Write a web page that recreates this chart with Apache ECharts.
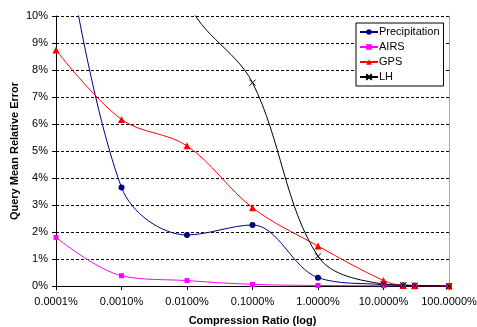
<!DOCTYPE html>
<html>
<head>
<meta charset="utf-8">
<script src="https://cdn.jsdelivr.net/npm/echarts@6/dist/echarts.min.js"></script>
<style>
  html, body { margin: 0; padding: 0; background: #fff; }
  #chart { width: 477px; height: 327px; }
</style>
</head>
<body>
<div id="chart"></div>
<script>
// compression ratios (%) on a log axis
const ratios = [0.0001, 0.001, 0.01, 0.1, 1, 10, 20, 30, 100];

// query mean relative error (%), values above 10% are clipped by the axis
const precipitation = [15, 3.65, 1.89, 2.26, 0.31, 0.05, 0.03, 0.02, 0];
const airs = [1.8, 0.38, 0.2, 0.06, 0.02, 0.01, 0.01, 0.01, 0];
const gps = [8.74, 6.17, 5.19, 2.9, 1.48, 0.2, 0.02, 0.01, 0];
const lh = [null, 35, 10.8, 7.53, 1.1, 0.07, 0.03, 0.02, 0];

const seriesNames = ['Precipitation', 'AIRS', 'GPS', 'LH'];

const font = '"Liberation Sans", Arial, sans-serif';

function pairs(values) {
    return ratios.map((r, i) => [r, values[i]]).filter(p => p[1] !== null);
}

function makeSeries(name, values, color, symbol, size, extra) {
    return Object.assign({
        name: name,
        type: 'line',
        data: pairs(values),
        smooth: 0.35,
        symbol: symbol,
        symbolSize: size,
        showAllSymbol: true,
        clip: true,
        lineStyle: { color: color, width: 1 },
        itemStyle: { color: color }
    }, extra || {});
}

const chart = echarts.init(document.getElementById('chart'));

chart.setOption({
    animation: false,
    backgroundColor: '#fff',
    textStyle: { fontFamily: font },
    grid: { left: 56, right: 28, top: 16, bottom: 41, containLabel: false, outerBoundsMode: 'none' },
    legend: {
        orient: 'vertical',
        left: 356,
        top: 23,
        width: 87,
        data: seriesNames,
        backgroundColor: '#fff',
        borderColor: '#000',
        borderWidth: 1,
        padding: [3, 4, 3, 3],
        itemGap: 3,
        itemWidth: 18,
        itemHeight: 7,
        textStyle: { fontSize: 11, lineHeight: 12, color: '#000', fontFamily: font, padding: [0, 0, 0, -4] }
    },
    xAxis: {
        type: 'log',
        logBase: 10,
        min: 0.0001,
        max: 100,
        name: 'Compression Ratio (log)',
        nameLocation: 'middle',
        nameGap: 29,
        nameMoveOverlap: false,
        nameTextStyle: { fontSize: 11, fontWeight: 'bold', color: '#000', fontFamily: font },
        axisLine: { lineStyle: { color: '#000', width: 1 } },
        axisTick: { show: true, length: 4, lineStyle: { color: '#000' } },
        minorTick: { show: false },
        splitLine: { show: false },
        axisLabel: {
            fontSize: 11,
            color: '#000',
            margin: 10,
            fontFamily: font,
            formatter: v => Number(v).toFixed(4) + '%'
        }
    },
    yAxis: [{
        type: 'value',
        min: 0,
        max: 10,
        interval: 1,
        name: 'Query Mean Relative Error',
        nameLocation: 'middle',
        nameGap: 36,
        nameMoveOverlap: false,
        nameTextStyle: { fontSize: 11, fontWeight: 'bold', color: '#000', fontFamily: font },
        axisLine: { show: true, lineStyle: { color: '#000', width: 1 } },
        axisTick: { show: true, length: 4, lineStyle: { color: '#000' } },
        splitLine: { show: true, lineStyle: { color: '#000', type: [3, 2], width: 1 } },
        axisLabel: {
            fontSize: 11,
            color: '#000',
            margin: 8,
            fontFamily: font,
            formatter: '{value}%'
        }
    }, {
        // grey plot-area border on the right
        type: 'value',
        position: 'right',
        min: 0,
        max: 10,
        axisLine: { show: true, lineStyle: { color: '#aaa', width: 1 } },
        axisTick: { show: false },
        axisLabel: { show: false },
        splitLine: { show: false }
    }],
    series: [
        makeSeries('Precipitation', precipitation, '#000080', 'circle', 6),
        makeSeries('AIRS', airs, '#ff00ff', 'rect', 5),
        makeSeries('GPS', gps, '#ff0000', 'triangle', 7),
        makeSeries('LH', lh, '#000000', 'path://M0,0L10,10M10,0L0,10', 6, {
            itemStyle: { color: 'none', borderColor: '#000', borderWidth: 1 }
        })
    ]
});
</script>
</body>
</html>
